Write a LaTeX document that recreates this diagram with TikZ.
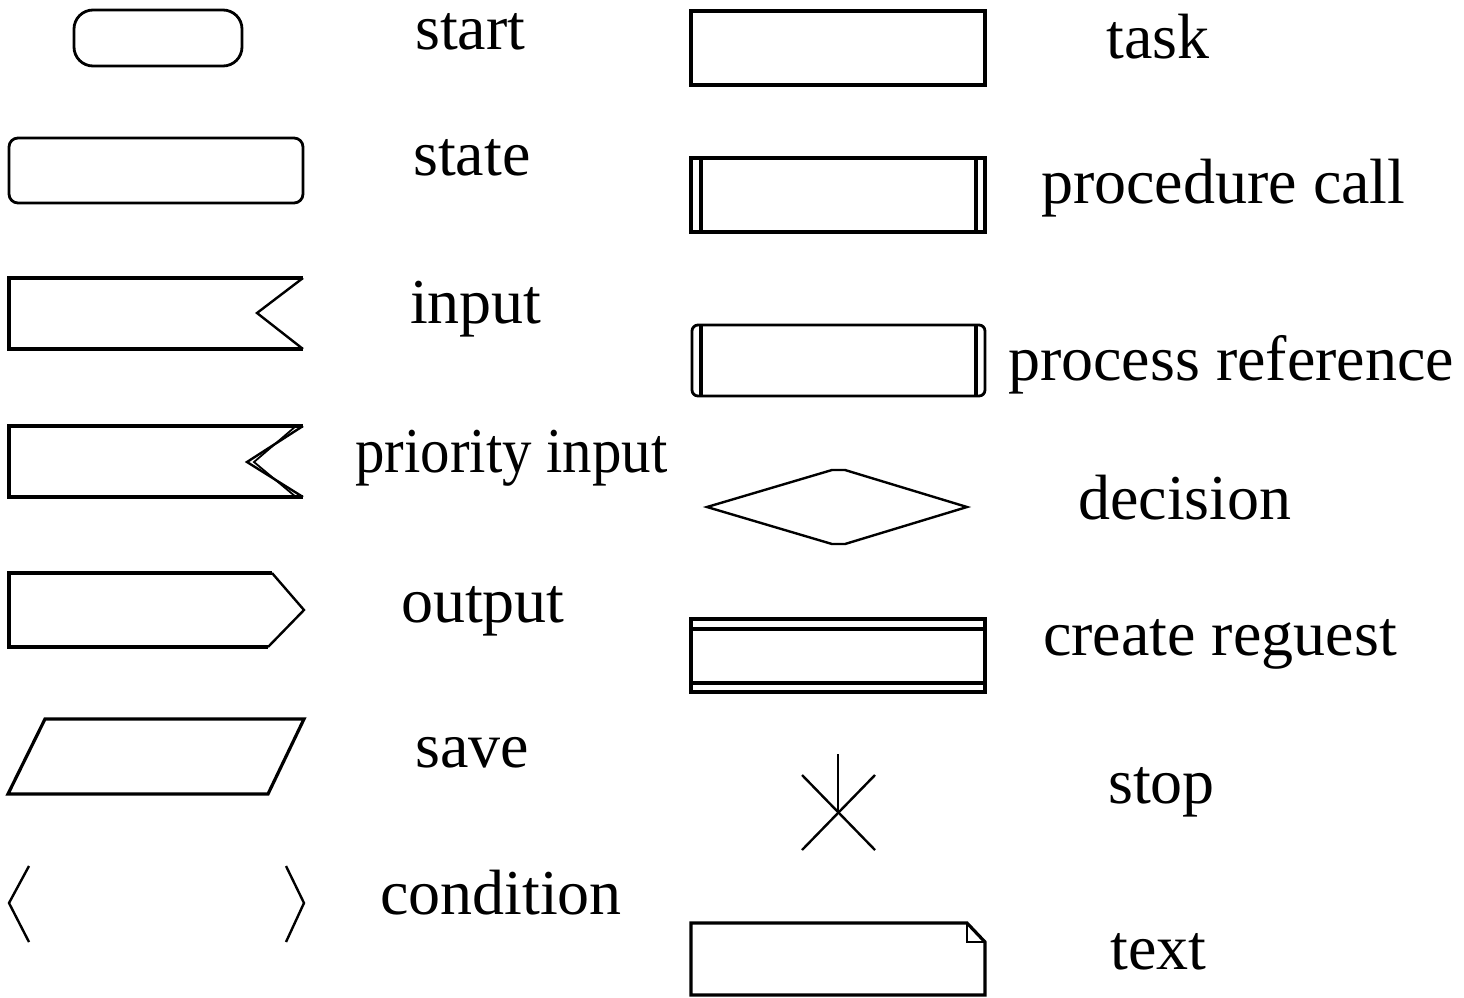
\documentclass[tikz,border=0pt]{standalone}
\usepackage{fontspec}
\newfontfamily\lblfont{Liberation Serif}
\begin{document}
\begin{tikzpicture}[x=1pt,y=-1pt,
  sym/.style={draw=black,line width=3.2pt,line join=miter},
  thin sym/.style={draw=black,line width=2.4pt},
  lbl/.style={anchor=base west,inner sep=0pt,font=\lblfont\fontsize{64}{70}\selectfont}]
\useasboundingbox (0,0) rectangle (1464,997);

% ---- left column of symbols ----
% start
\draw[sym,line width=2.8pt,rounded corners=19pt] (74,10) rectangle (242,66);
% state
\draw[sym,line width=2.8pt,rounded corners=9pt] (9,138) rectangle (303,203);
% input
\draw[sym] (303,278) -- (9,278) -- (9,349) -- (303,349);
\draw[thin sym] (303,278) -- (257,313) -- (303,349);
% priority input
\draw[sym] (303,426) -- (9,426) -- (9,497) -- (303,497);
\draw[thin sym] (303,426) -- (247,462) -- (303,497);
\draw[thin sym,line width=1.8pt] (296,426) -- (254,462) -- (296,497);
% output
\draw[sym] (272,573) -- (9,573) -- (9,647) -- (268,647);
\draw[thin sym] (272,573) -- (304,610) -- (268,647);
% save
\draw[sym] (45,719) -- (304,719) -- (268,794) -- (8,794) -- cycle;
% condition
\draw[thin sym] (29,866) -- (9,903) -- (29,942);
\draw[thin sym] (286,866) -- (304,903) -- (286,942);

% ---- right column of symbols ----
% task
\draw[sym] (691,11) rectangle (985,85);
% procedure call
\draw[sym] (691,158) rectangle (985,232);
\draw[sym] (701,158) -- (701,232);
\draw[sym,line width=3.8pt] (976,158) -- (976,232);
% process reference
\draw[sym,line width=2.8pt,rounded corners=6pt] (692,325) rectangle (985,396);
\draw[sym] (701,325) -- (701,396);
\draw[sym,line width=3.8pt] (976,325) -- (976,396);
% decision
\draw[thin sym] (707,507) -- (832,470) -- (845,470) -- (967,507) -- (845,544) -- (832,544) -- cycle;
% create request
\draw[sym] (691,619) rectangle (985,692);
\draw[sym] (691,629) -- (985,629);
\draw[sym] (691,683) -- (985,683);
% stop
\draw[thin sym] (838,754) -- (838,812);
\draw[thin sym] (802,775) -- (875,850);
\draw[thin sym] (875,775) -- (802,850);
% text
\draw[sym] (691,923) -- (967,923) -- (985,942) -- (985,995) -- (691,995) -- cycle;
\draw[sym,line width=2.6pt] (967,923) -- (967,942) -- (985,942);

% ---- labels ----
\node[lbl] (lstart)  at (415,49)  {start};
\node[lbl] (lstate)  at (413,175) {state};
\node[lbl] (linput)  at (410,323) {input};
\node[lbl] (lprio)   at (355,472) {\scalebox{0.92}[1]{priority input}};
\node[lbl] (lout)    at (401,622) {output};
\node[lbl] (lsave)   at (415,767) {save};
\node[lbl] (lcond)   at (380,914) {condition};
\node[lbl] (ltask)   at (1106,58)  {task};
\node[lbl] (lproc)   at (1041,203) {procedure call};
\node[lbl] (lref)    at (1008,380) {process reference};
\node[lbl] (ldec)    at (1078,519) {decision};
\node[lbl] (lcreate) at (1043,655) {create reguest};
\node[lbl] (lstop)   at (1108,803) {stop};
\node[lbl] (ltext)   at (1110,969) {text};
\end{tikzpicture}
\end{document}
